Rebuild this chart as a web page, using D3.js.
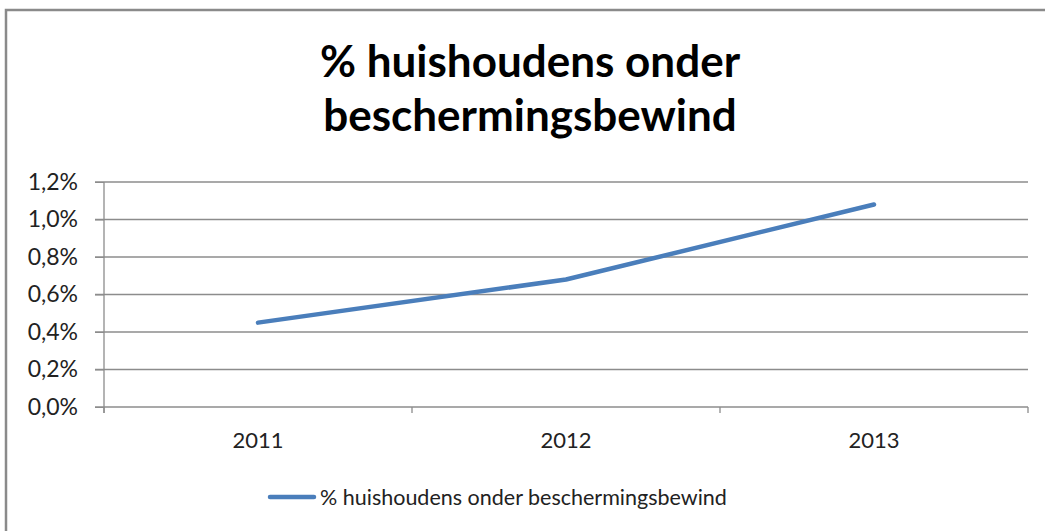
<!DOCTYPE html>
<html>
<head>
<meta charset="utf-8">
<script src="https://cdn.jsdelivr.net/npm/d3@7"></script>
<style>
	body { margin: 0; background: #fff; }
	svg text { font-family: Lato, "Open Sans", sans-serif; }
</style>
</head>
<body>
<div id="chart"></div>
<script>
var years = ["2011", "2012", "2013"];
var values = [0.45, 0.68, 1.08];
var yTicks = [0, 0.2, 0.4, 0.6, 0.8, 1.0, 1.2];
var titleLines = ["% huishoudens onder", "beschermingsbewind"];
var seriesName = "% huishoudens onder beschermingsbewind";

var W = 1045, H = 531;
var plotLeft = 104, plotRight = 1028, plotTop = 182, plotBottom = 407;

var svg = d3.select("#chart")
	.append("svg")
	.attr("width", W)
	.attr("height", H)
	;

// chart frame (right/bottom edges fall outside the window)
svg.append("rect")
	.attr("x", 6).attr("y", 10)
	.attr("width", 1100).attr("height", 600)
	.attr("fill", "none")
	.attr("stroke", "#8a8a8a")
	.attr("stroke-width", 2.5)
	;

svg.selectAll("text.title")
	.data(titleLines)
	.enter().append("text")
	.attr("class", "title")
	.attr("x", 530)
	.attr("y", function(d, i) { return 77 + i * 54; })
	.attr("text-anchor", "middle")
	.style("font-size", "44px")
	.style("font-weight", "bold")
	.attr("fill", "#000")
	.text(function(d) { return d; })
	;

var x = d3.scaleBand().domain(years).range([plotLeft, plotRight]).padding(0);
var y = d3.scaleLinear().domain([0, 1.2]).range([plotBottom, plotTop]);

var fmt = function(d) { return d.toFixed(1).replace(".", ",") + "%"; };

// gridlines
svg.append("g")
	.selectAll("line")
	.data(yTicks)
	.enter().append("line")
	.attr("x1", plotLeft - 9).attr("x2", plotRight)
	.attr("y1", function(d) { return y(d); })
	.attr("y2", function(d) { return y(d); })
	.attr("stroke", "#8c8c8c")
	.attr("stroke-width", 1.3)
	;

// y axis
var yAxis = svg.append("g")
	.attr("transform", "translate(" + plotLeft + ",0)")
	.call(d3.axisLeft(y).tickValues(yTicks).tickFormat(fmt).tickSize(9).tickPadding(17))
	;
yAxis.select(".domain").attr("stroke", "#8c8c8c").attr("stroke-width", 1.3)
	.attr("d", "M0," + plotTop + "V" + (plotBottom + 6));
yAxis.selectAll(".tick line").attr("stroke", "#8c8c8c");
yAxis.selectAll("text").style("font-size", "23px").attr("fill", "#222");

// x axis ticks at category boundaries
var bounds = years.map(function(d) { return x(d); }).concat([plotRight]);
svg.append("g")
	.selectAll("line")
	.data(bounds)
	.enter().append("line")
	.attr("x1", function(d) { return d; })
	.attr("x2", function(d) { return d; })
	.attr("y1", plotBottom).attr("y2", plotBottom + 6)
	.attr("stroke", "#8c8c8c")
	.attr("stroke-width", 1.3)
	;
svg.append("g")
	.selectAll("text")
	.data(years)
	.enter().append("text")
	.attr("x", function(d) { return x(d) + x.bandwidth() / 2; })
	.attr("y", 448)
	.attr("text-anchor", "middle")
	.style("font-size", "22px")
	.attr("fill", "#222")
	.text(function(d) { return d; })
	;

// series line
var line = d3.line()
	.x(function(d, i) { return x(years[i]) + x.bandwidth() / 2; })
	.y(function(d) { return y(d); });

svg.append("path")
	.datum(values)
	.attr("d", line)
	.attr("fill", "none")
	.attr("stroke", "#4a7ebb")
	.attr("stroke-width", 4.5)
	.attr("stroke-linecap", "round")
	.attr("stroke-linejoin", "round")
	;

// legend
var lg = svg.append("g");
lg.append("line")
	.attr("x1", 270).attr("x2", 314)
	.attr("y1", 497).attr("y2", 497)
	.attr("stroke", "#4a7ebb")
	.attr("stroke-width", 4.5)
	.attr("stroke-linecap", "round")
	;
lg.append("text")
	.attr("x", 320).attr("y", 505)
	.style("font-size", "21.5px")
	.attr("fill", "#222")
	.text(seriesName)
	;
</script>
</body>
</html>
